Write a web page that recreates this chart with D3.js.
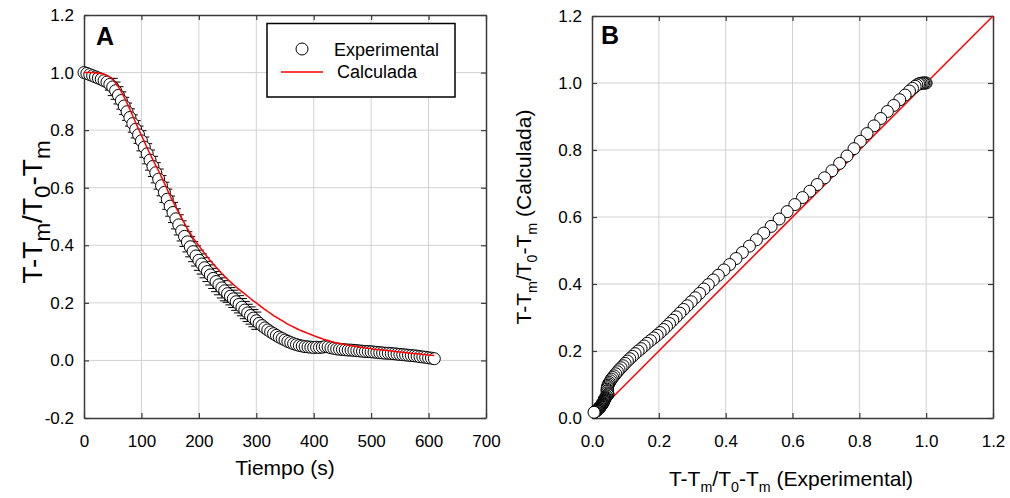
<!DOCTYPE html>
<html>
<head>
<meta charset="utf-8">
<script src="https://cdn.jsdelivr.net/npm/d3@7"></script>
<style>
  body { margin: 0; background: #fff; }
  text { font-family: "Liberation Sans", Arial, sans-serif; fill: #000; }
</style>
</head>
<body>
<div id="chart"></div>
<script>
// datos
const tiempo = [0,5,10,15,20,25,30,35,40,45,50,55,60,65,70,75,80,85,90,95,
  100,105,110,115,120,125,130,135,140,145,150,155,160,165,170,175,180,185,190,195,
  200,205,210,215,220,225,230,235,240,245,250,255,260,265,270,275,280,285,290,295,
  300,305,310,315,320,325,330,335,340,345,350,355,360,365,370,375,380,385,390,395,
  400,405,410,415,420,425,430,435,440,445,450,455,460,465,470,475,480,485,490,495,
  500,505,510,515,520,525,530,535,540,545,550,555,560,565,570,575,580,585,590,595,
  600,605,610]

const experimental = [1.000,0.997,0.993,0.989,0.985,0.981,0.977,0.972,0.967,0.959,
  0.950,0.937,0.921,0.903,0.884,0.864,0.844,0.823,0.803,0.784,
  0.763,0.741,0.718,0.696,0.674,0.652,0.630,0.607,0.584,0.560,
  0.536,0.514,0.492,0.471,0.450,0.431,0.412,0.395,0.378,0.363,
  0.348,0.335,0.322,0.309,0.297,0.285,0.274,0.263,0.252,0.242,
  0.232,0.223,0.214,0.204,0.195,0.185,0.175,0.165,0.156,0.147,
  0.138,0.129,0.121,0.113,0.106,0.099,0.093,0.087,0.081,0.076,
  0.071,0.066,0.062,0.058,0.055,0.052,0.050,0.048,0.047,0.046,
  0.045,0.046,0.045,0.046,0.048,0.047,0.044,0.042,0.040,0.039,
  0.038,0.037,0.036,0.036,0.035,0.034,0.033,0.032,0.031,0.031,
  0.030,0.029,0.028,0.027,0.026,0.025,0.025,0.024,0.023,0.022,
  0.021,0.020,0.019,0.018,0.017,0.016,0.015,0.013,0.012,0.011,
  0.009,0.008,0.006]

const calculada = [1.000,1.000,1.000,1.000,0.999,0.998,0.997,0.994,0.990,0.984,
  0.976,0.964,0.950,0.933,0.915,0.894,0.872,0.849,0.826,0.804,
  0.782,0.760,0.738,0.717,0.697,0.677,0.658,0.637,0.616,0.594,
  0.572,0.552,0.532,0.513,0.494,0.476,0.458,0.442,0.426,0.412,
  0.398,0.385,0.372,0.359,0.347,0.335,0.324,0.313,0.302,0.292,
  0.282,0.273,0.264,0.255,0.247,0.239,0.231,0.223,0.215,0.207,
  0.200,0.192,0.184,0.177,0.170,0.163,0.156,0.150,0.144,0.138,
  0.132,0.126,0.121,0.116,0.111,0.106,0.102,0.098,0.094,0.090,
  0.086,0.082,0.079,0.075,0.072,0.069,0.066,0.063,0.061,0.059,
  0.057,0.055,0.053,0.051,0.050,0.048,0.046,0.045,0.043,0.042,
  0.041,0.039,0.038,0.037,0.036,0.035,0.034,0.033,0.032,0.030,
  0.029,0.028,0.027,0.026,0.025,0.024,0.023,0.022,0.021,0.020,
  0.019,0.018,0.017]

// desviacion de los puntos experimentales
const errorExp = [0,0,0,0,0,0,0,0,0.015,0.020,
  0.030,0.030,0.030,0.030,0.030,0.030,0.030,0.030,0.030,0.030,
  0.035,0.035,0.035,0.035,0.035,0.035,0.035,0.035,0.035,0.035,
  0.035,0.035,0.035,0.035,0.035,0.035,0.035,0.035,0.035,0.035,
  0.035,0.035,0.035,0.035,0.035,0.035,0.035,0.035,0.035,0.035,
  0.030,0.030,0.030,0.030,0.030,0.030,0.030,0.030,0.030,0.030,
  0.030,0,0,0,0,0,0,0,0,0,
  0,0,0,0,0,0,0,0,0,0,
  0,0,0,0,0,0,0,0,0,0,
  0,0,0,0,0,0,0,0,0,0,
  0,0,0,0,0,0,0,0,0,0,
  0,0,0,0,0,0,0,0,0,0,
  0,0,0]

const xTicksA = [0,100,200,300,400,500,600,700]
const yTicksA = [-0.2,0,0.2,0.4,0.6,0.8,1.0,1.2]
const ticksB = [0,0.2,0.4,0.6,0.8,1.0,1.2]
const lineaB = [0,1.2]

const svg = d3.select('#chart')
  .append('svg')
    .attr('width', 1010)
    .attr('height', 498)

const fmt1 = d => d3.format('.1f')(d).replace('\u2212', '-')

// texto con subindices: parts = [[texto, esSub], ...]
function richText (sel, parts, size, subScale) {
  let prevSub = false
  parts.forEach(([s, sub]) => {
    const t = sel.append('tspan').text(s)
    if (sub) {
      t.attr('font-size', size * subScale).attr('dy', prevSub ? 0 : size * 0.3)
    } else {
      t.attr('font-size', size).attr('dy', prevSub ? -size * 0.3 : 0)
    }
    prevSub = sub
  })
  return sel
}

function panel (left, top, width, height, x, y, xTicks, yTicks, xFmt, yFmt) {
  const g = svg.append('g').attr('transform', `translate(${left}, ${top})`)

  // rejilla
  g.append('g').selectAll('line')
    .data(xTicks.slice(1, -1))
    .enter().append('line')
      .attr('x1', d => x(d)).attr('x2', d => x(d))
      .attr('y1', 0).attr('y2', height)
      .attr('stroke', '#d2d2d2').attr('stroke-width', 1)
  g.append('g').selectAll('line')
    .data(yTicks.slice(1, -1))
    .enter().append('line')
      .attr('y1', d => y(d)).attr('y2', d => y(d))
      .attr('x1', 0).attr('x2', width)
      .attr('stroke', '#d2d2d2').attr('stroke-width', 1)

  const bottom = g.append('g')
    .attr('transform', `translate(0, ${height})`)
    .call(d3.axisBottom(x).tickValues(xTicks).tickFormat(xFmt).tickSize(-5).tickSizeOuter(0).tickPadding(17))
  const leftAx = g.append('g')
    .call(d3.axisLeft(y).tickValues(yTicks).tickFormat(yFmt).tickSize(-5).tickSizeOuter(0).tickPadding(10))
  const topAx = g.append('g')
    .call(d3.axisTop(x).tickValues(xTicks).tickFormat('').tickSize(-5).tickSizeOuter(0))
  const rightAx = g.append('g')
    .attr('transform', `translate(${width}, 0)`)
    .call(d3.axisRight(y).tickValues(yTicks).tickFormat('').tickSize(-5).tickSizeOuter(0))

  ;[bottom, leftAx, topAx, rightAx].forEach(a => {
    a.select('.domain').attr('stroke', '#3a3a3a').attr('stroke-width', 1.5)
    a.selectAll('.tick line').attr('stroke', '#3a3a3a').attr('stroke-width', 1.2)
    a.selectAll('.tick text')
      .attr('font-size', 17)
      .attr('font-family', '"Liberation Sans", Arial, sans-serif')
      .attr('fill', '#000')
  })
  return g
}

// ---------- Panel A ----------
const wA = 402, hA = 403
const xA = d3.scaleLinear().domain([0, 700]).range([0, wA])
const yA = d3.scaleLinear().domain([-0.2, 1.2]).range([hA, 0])
const gA = panel(84, 15, wA, hA, xA, yA, xTicksA, yTicksA, d3.format('d'), fmt1)

const datosA = tiempo.map((t, i) => ({ t, e: experimental[i], c: calculada[i], err: errorExp[i] }))

// barras de error
const eb = gA.append('g').attr('stroke', '#000').attr('stroke-width', 1)
datosA.filter(d => d.err > 0).forEach(d => {
  const cx = xA(d.t)
  eb.append('line').attr('x1', cx).attr('x2', cx).attr('y1', yA(d.e - d.err)).attr('y2', yA(d.e + d.err))
  ;[d.e - d.err, d.e + d.err].forEach(v => {
    eb.append('line').attr('x1', cx - 5).attr('x2', cx + 5).attr('y1', yA(v)).attr('y2', yA(v))
  })
})

gA.append('g').selectAll('circle')
  .data(datosA)
  .enter().append('circle')
    .attr('cx', d => xA(d.t))
    .attr('cy', d => yA(d.e))
    .attr('r', 6)
    .attr('fill', '#fff')
    .attr('stroke', '#000')
    .attr('stroke-width', 1)

const lineA = d3.line()
  .x(d => xA(d.t))
  .y(d => yA(d.c))
  .curve(d3.curveMonotoneX)

gA.append('path')
  .datum(datosA)
  .attr('d', lineA)
  .attr('fill', 'none')
  .attr('stroke', '#ff0000')
  .attr('stroke-width', 1.5)

// leyenda
const leg = svg.append('g')
leg.append('rect')
  .attr('x', 267).attr('y', 23.5).attr('width', 188).attr('height', 73.5)
  .attr('fill', '#fff').attr('stroke', '#000').attr('stroke-width', 1.5)
leg.append('circle').attr('cx', 302).attr('cy', 49).attr('r', 6)
  .attr('fill', '#fff').attr('stroke', '#000')
leg.append('text').attr('x', 334).attr('y', 56).attr('font-size', 18).text('Experimental')
leg.append('line').attr('x1', 281).attr('x2', 323).attr('y1', 72).attr('y2', 72)
  .attr('stroke', '#ff0000').attr('stroke-width', 1.5)
leg.append('text').attr('x', 337).attr('y', 78).attr('font-size', 18).text('Calculada')

svg.append('text').attr('x', 96).attr('y', 45)
  .attr('font-size', 25).attr('font-weight', 'bold').text('A')

svg.append('text').attr('x', 285).attr('y', 475)
  .attr('text-anchor', 'middle').attr('font-size', 21).text('Tiempo (s)')

richText(
  svg.append('text')
    .attr('text-anchor', 'middle')
    .attr('transform', 'translate(42, 212) rotate(-90)'),
  [['T-T', false], ['m', true], ['/T', false], ['0', true], ['-T', false], ['m', true]], 28, 0.8)

// ---------- Panel B ----------
const wB = 401, hB = 402
const xB = d3.scaleLinear().domain([0, 1.2]).range([0, wB])
const yB = d3.scaleLinear().domain([0, 1.2]).range([hB, 0])
const gB = panel(592, 16, wB, hB, xB, yB, ticksB, ticksB, fmt1, fmt1)

gB.append('line')
  .attr('x1', xB(lineaB[0])).attr('y1', yB(lineaB[0]))
  .attr('x2', xB(lineaB[1])).attr('y2', yB(lineaB[1]))
  .attr('stroke', '#ff0000').attr('stroke-width', 1.5)

gB.append('g').selectAll('circle')
  .data(datosA)
  .enter().append('circle')
    .attr('cx', d => xB(d.e))
    .attr('cy', d => yB(d.c))
    .attr('r', 6)
    .attr('fill', '#fff')
    .attr('stroke', '#000')
    .attr('stroke-width', 1)

svg.append('text').attr('x', 601).attr('y', 44)
  .attr('font-size', 25).attr('font-weight', 'bold').text('B')

richText(
  svg.append('text')
    .attr('text-anchor', 'middle')
    .attr('transform', 'translate(791, 486)'),
  [['T-T', false], ['m', true], ['/T', false], ['0', true], ['-T', false], ['m', true], [' (Experimental)', false]], 21, 0.68)

richText(
  svg.append('text')
    .attr('text-anchor', 'middle')
    .attr('transform', 'translate(531, 217) rotate(-90)'),
  [['T-T', false], ['m', true], ['/T', false], ['0', true], ['-T', false], ['m', true], [' (Calculada)', false]], 21, 0.68)
</script>
</body>
</html>
